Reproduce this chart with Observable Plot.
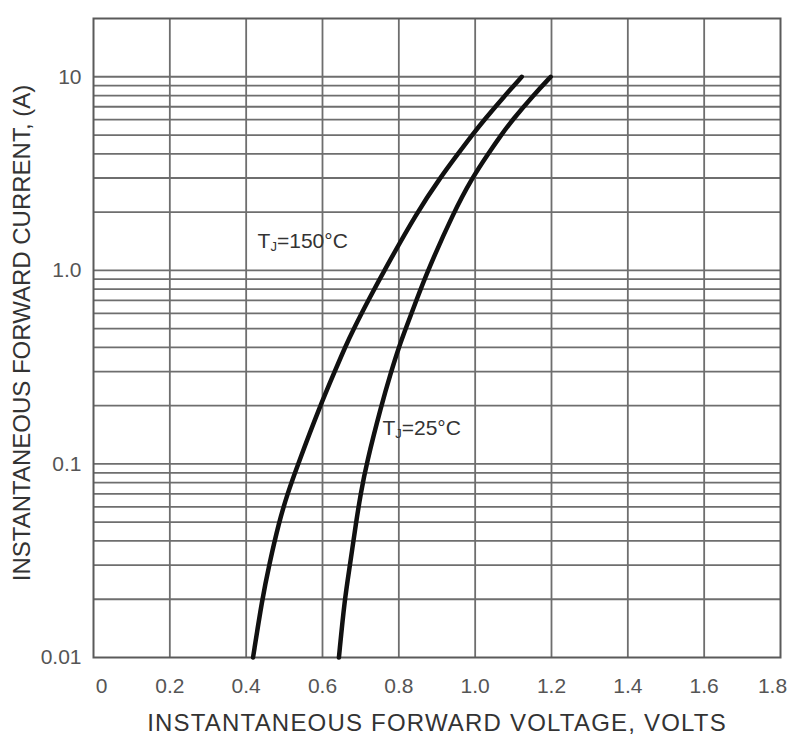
<!DOCTYPE html>
<html><head><meta charset="utf-8">
<script src="https://cdn.jsdelivr.net/npm/d3@7"></script>
<script src="https://cdn.jsdelivr.net/npm/@observablehq/plot@0.6"></script>
<style>html,body{margin:0;padding:0;background:#fff}#chart svg{display:block}</style>
</head><body><div id="chart"></div>
<script>
// Forward voltage (V) vs instantaneous forward current (A)
const v150 = [0.418, 0.442, 0.460, 0.486, 0.508, 0.536, 0.594, 0.632, 0.659, 0.682, 0.720, 0.762, 0.848, 0.908, 0.955, 0.992, 1.024, 1.078, 1.122];
const i150 = [0.01, 0.02, 0.03, 0.05, 0.07, 0.1, 0.2, 0.3, 0.4, 0.5, 0.7, 1.0, 2, 3, 4, 5, 6, 8, 10];
const v25 = [0.643, 0.658, 0.672, 0.688, 0.700, 0.715, 0.754, 0.780, 0.800, 0.818, 0.846, 0.876, 0.944, 0.992, 1.034, 1.068, 1.098, 1.152, 1.198];
const i25 = [0.01, 0.02, 0.03, 0.05, 0.07, 0.1, 0.2, 0.3, 0.4, 0.5, 0.7, 1.0, 2, 3, 4, 5, 6, 8, 10];

const xTicks = [0, 0.2, 0.4, 0.6, 0.8, 1.0, 1.2, 1.4, 1.6, 1.8];
const xTickLabels = ["0", "0.2", "0.4", "0.6", "0.8", "1.0", "1.2", "1.4", "1.6", "1.8"];
const yTicks = [0.01, 0.1, 1, 10];
const yTickLabels = ["0.01", "0.1", "1.0", "10"];
const xGrid = [0.2, 0.4, 0.6, 0.8, 1.0, 1.2, 1.4, 1.6];
const yGrid = [0.02, 0.03, 0.04, 0.05, 0.06, 0.07, 0.08, 0.09,
               0.1, 0.2, 0.3, 0.4, 0.5, 0.6, 0.7, 0.8, 0.9,
               1, 2, 3, 4, 5, 6, 7, 8, 9, 10];

const seriesLabels = ["TJ=150°C", "TJ=25°C"];
const labelX = [0.43, 0.757];
const labelY = [1.42, 0.152];

const xTitle = "INSTANTANEOUS FORWARD VOLTAGE, VOLTS";
const yTitle = "INSTANTANEOUS FORWARD CURRENT, (A)";

const rows150 = v150.map((v, k) => ({v, i: i150[k]}));
const rows25 = v25.map((v, k) => ({v, i: i25[k]}));
const labelRows = seriesLabels.map((t, k) => ({t, x: labelX[k], y: labelY[k]}));

const font = "'Liberation Sans', Arial, sans-serif";
const gridColor = "#6e6e6e";

const chart = Plot.plot({
  width: 794,
  height: 741,
  marginLeft: 93,
  marginRight: 14,
  marginTop: 18,
  marginBottom: 84,
  style: {fontFamily: font, background: "#fff"},
  x: {domain: [0, 1.8], label: null},
  y: {type: "log", domain: [0.01, 20], label: null},
  marks: [
    Plot.ruleX(xGrid, {stroke: gridColor, strokeWidth: 1.8}),
    Plot.ruleY(yGrid, {stroke: gridColor, strokeWidth: 1.8}),
    Plot.frame({stroke: "#5a5a5a", strokeWidth: 2}),
    Plot.line(rows150, {x: "v", y: "i", stroke: "#111", strokeWidth: 4.5, curve: "basis"}),
    Plot.line(rows25, {x: "v", y: "i", stroke: "#111", strokeWidth: 4.5, curve: "basis"}),
    Plot.text(labelRows, {x: "x", y: "y", text: "t", textAnchor: "start", fontSize: 21, fill: "#333"}),
    Plot.axisX(xTicks, {tickFormat: d => xTickLabels[xTicks.indexOf(d)], tickSize: 0, tickPadding: 21, fontSize: 21, fill: "#555", label: null}),
    Plot.axisY(yTicks, {tickFormat: d => yTickLabels[yTicks.indexOf(d)], tickSize: 0, tickPadding: 12, fontSize: 21, fill: "#555", label: null}),
    Plot.text([xTitle], {frameAnchor: "bottom", dy: 73, fontSize: 24, fill: "#333"}),
    Plot.text([yTitle], {frameAnchor: "left", textAnchor: "middle", rotate: -90, dx: -71, dy: -5, fontSize: 24, fill: "#333"})
  ]
});

const NS = "http://www.w3.org/2000/svg";
chart.querySelectorAll("text").forEach(el => {
  const s = el.textContent;
  if (s === xTitle) el.setAttribute("letter-spacing", "1.2");
  if (!s.startsWith("TJ=")) return;
  // subscript J in the series labels
  el.textContent = "";
  const add = (txt, attrs) => {
    const t = document.createElementNS(NS, "tspan");
    t.textContent = txt;
    for (const k in attrs) t.setAttribute(k, attrs[k]);
    el.appendChild(t);
  };
  add("T", {});
  add("J", {"font-size": 13, dy: 3});
  add(s.slice(2), {dy: -3});
});

// inset first and last x tick labels like the reference
const xl = chart.querySelectorAll('g[aria-label="x-axis tick label"] text');
if (xl.length) {
  xl[0].setAttribute("dx", 8);
  xl[xl.length - 1].setAttribute("dx", -8);
}

document.getElementById("chart").appendChild(chart);
</script>
</body></html>
